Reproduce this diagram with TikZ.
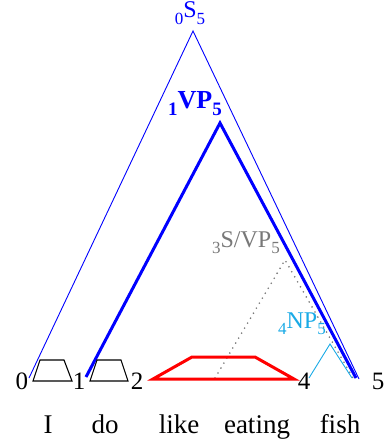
\documentclass[tikz,border=0pt]{standalone}
\usepackage{fontspec}
\setmainfont{Liberation Serif}
\definecolor{npcyan}{RGB}{25,170,230}
\definecolor{svgray}{RGB}{120,120,120}
\newcommand{\lbl}[5]{{\fontsize{#1}{#1}\selectfont\raisebox{-0.28em}{\fontsize{#2}{#2}\selectfont #3}#4\raisebox{-0.28em}{\fontsize{#2}{#2}\selectfont #5}}}
\tikzset{
  num/.style={inner sep=0pt, anchor=base, font=\fontsize{25}{25}\selectfont},
  word/.style={inner sep=0pt, anchor=base, font=\fontsize{27}{27}\selectfont},
  catlbl/.style={inner sep=0pt, anchor=base},
  thinblue/.style={blue, line width=0.9pt},
  thickblue/.style={blue, line width=3pt},
  trap/.style={black, line width=1.1pt},
  redtrap/.style={red, line width=3pt, line join=miter},
  nptri/.style={npcyan, line width=0.9pt},
  dottri/.style={svgray, line width=1.8pt, dash pattern=on 0pt off 5.8pt, line cap=round}
}
\begin{document}
\begin{tikzpicture}[x=1pt,y=-1pt]
\useasboundingbox (0,0) rectangle (384,444);
% numbers
\node[num] (n0) at (22,389) {0};
\node[num] (n1) at (79,389) {1};
\node[num] (n2) at (137,389) {2};
\node[num] (n4) at (304,389) {4};
\node[num] (n5) at (378,389) {5};
% words
\node[word] (w1) at (48,433) {I};
\node[word] (w2) at (105,433) {do};
\node[word] (w3) at (179,433) {like};
\node[word] (w4) at (257,433) {eating};
\node[word] (w5) at (340,433) {fish};
% S triangle
\coordinate (sA) at (193,31);
\coordinate (sL) at (29,378);
\coordinate (sR) at (359,379);
\draw[thinblue] (sL) -- (sA) -- (sR);
\node[catlbl, text=blue] (sl) at (190,18) {\lbl{24}{17}{0}{S}{5}};
% VP triangle
\coordinate (vA) at (220,123);
\coordinate (vL) at (86,377);
\coordinate (vR) at (356,378);
\draw[thickblue] (vL) -- (vA) -- (vR);
\node[catlbl, text=blue] (vl) at (195,108) {\lbl{26}{19}{\bfseries 1}{\bfseries VP}{\bfseries 5}};
% S/VP dotted triangle
\coordinate (dA) at (285,260);
\coordinate (dL) at (215,378);
\coordinate (dR) at (353,378);
\draw[dottri] (dL) -- (dA) -- (dR);
\node[catlbl, text=svgray] (dl) at (246,247) {\lbl{24}{17}{3}{S/VP}{5}};
% NP triangle
\coordinate (pL) at (309,378);
\coordinate (pA) at (330,344);
\coordinate (pR) at (352,378);
\draw[nptri] (pL) -- (pA) -- (pR);
\node[catlbl, text=npcyan] (pl) at (302,328) {\lbl{24}{17}{4}{NP}{5}};
% small trapezoids
\draw[trap] (33,381) -- (40,360) -- (64,360) -- (72,381) -- cycle;
\draw[trap] (90,381) -- (97,360) -- (121,360) -- (128,381) -- cycle;
% red trapezoid
\draw[redtrap] (153,379) -- (192,357) -- (255,357) -- (294,379) -- cycle;
\end{tikzpicture}
\end{document}
